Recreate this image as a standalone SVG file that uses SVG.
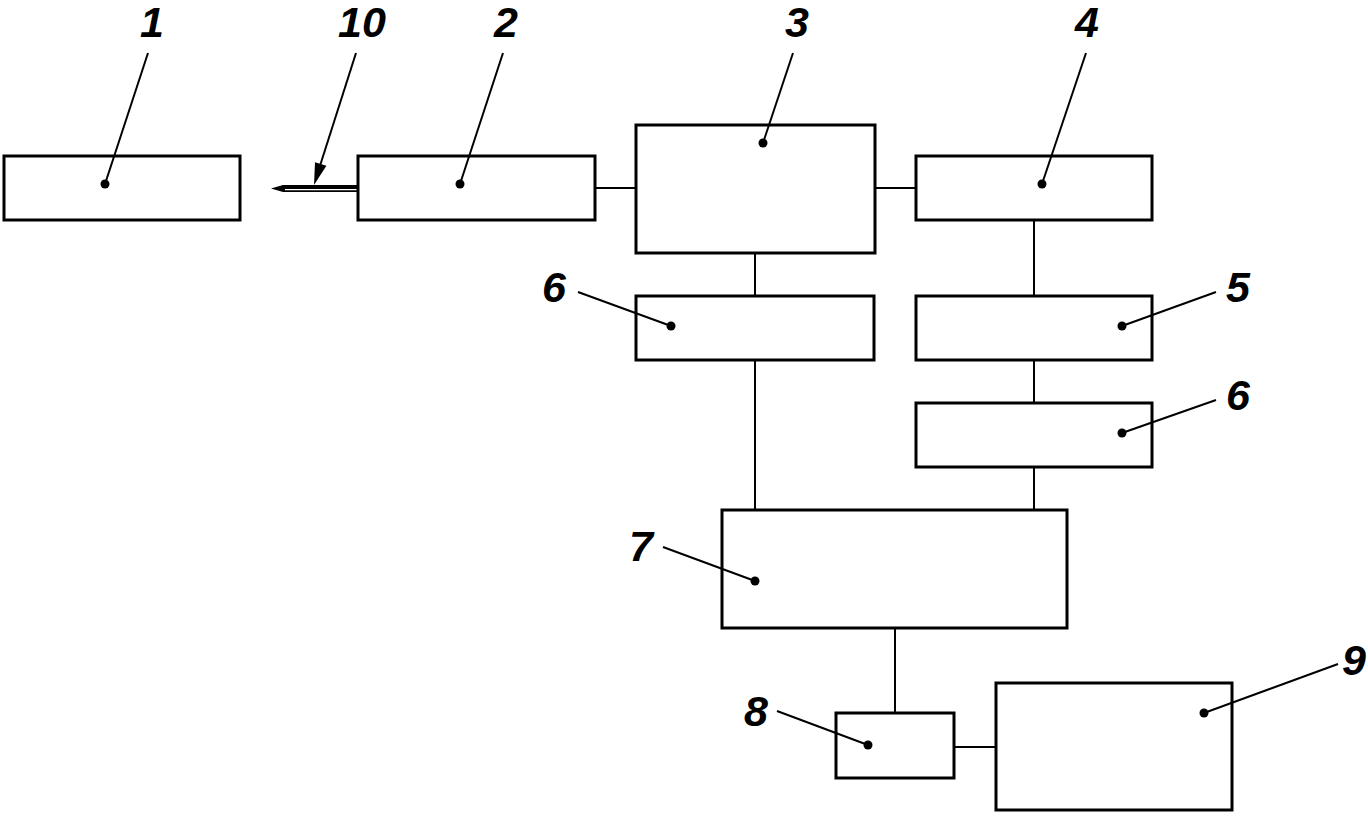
<svg xmlns="http://www.w3.org/2000/svg" width="1368" height="817" viewBox="0 0 1368 817">
<style>
.box{fill:#fff;stroke:#000;stroke-width:3}
.con line{stroke:#000;stroke-width:2}
.lead{stroke:#000;stroke-width:2}
.dot{fill:#000}
.lbl{font-family:"Liberation Sans",Arial,sans-serif;font-weight:bold;font-style:italic;font-size:43px;fill:#000;text-anchor:middle}
</style>
<rect width="1368" height="817" fill="#fff"/>
<g id="connectors" class="con">
<line x1="595" y1="188" x2="636" y2="188"/>
<line x1="875" y1="188" x2="916" y2="188"/>
<line x1="755" y1="253" x2="755" y2="296"/>
<line x1="1034" y1="220" x2="1034" y2="296"/>
<line x1="1034" y1="360" x2="1034" y2="403"/>
<line x1="755" y1="360" x2="755" y2="510"/>
<line x1="1034" y1="467" x2="1034" y2="510"/>
<line x1="895" y1="629" x2="895" y2="713"/>
<line x1="955" y1="747" x2="997" y2="747"/>
</g>
<g id="node1"><rect class="box" x="4" y="156" width="236" height="64"/><line class="lead" x1="105" y1="184" x2="148" y2="53"/><circle class="dot" cx="105" cy="184" r="4.5"/><text class="lbl" x="152" y="37">1</text></g>
<g id="node10"><polygon points="357,185 283,185 271,188.5 283,192 357,192" fill="#000"/><line x1="285" y1="189.6" x2="357" y2="189.6" stroke="#fff" stroke-width="1.3"/><line class="lead" x1="356" y1="53" x2="318" y2="172"/><polygon points="314,185 326.4,165.8 315,162.2" fill="#000"/><text class="lbl" x="362" y="37">10</text></g>
<g id="node2"><rect class="box" x="358" y="156" width="237" height="64"/><line class="lead" x1="460" y1="184" x2="503" y2="53"/><circle class="dot" cx="460" cy="184" r="4.5"/><text class="lbl" x="506" y="37">2</text></g>
<g id="node3"><rect class="box" x="636" y="125" width="239" height="128"/><line class="lead" x1="763" y1="143" x2="793" y2="53"/><circle class="dot" cx="763" cy="143" r="4.5"/><text class="lbl" x="797" y="37">3</text></g>
<g id="node4"><rect class="box" x="916" y="156" width="236" height="64"/><line class="lead" x1="1042" y1="184" x2="1086" y2="53"/><circle class="dot" cx="1042" cy="184" r="4.5"/><text class="lbl" x="1087" y="37">4</text></g>
<g id="node6a"><rect class="box" x="636" y="296" width="238" height="64"/><line class="lead" x1="671" y1="326" x2="578" y2="292"/><circle class="dot" cx="671" cy="326" r="4.5"/><text class="lbl" x="554" y="302">6</text></g>
<g id="node5"><rect class="box" x="916" y="296" width="236" height="64"/><line class="lead" x1="1122" y1="326" x2="1216" y2="292"/><circle class="dot" cx="1122" cy="326" r="4.5"/><text class="lbl" x="1238" y="302">5</text></g>
<g id="node6b"><rect class="box" x="916" y="403" width="236" height="64"/><line class="lead" x1="1122" y1="433" x2="1216" y2="400"/><circle class="dot" cx="1122" cy="433" r="4.5"/><text class="lbl" x="1238" y="410">6</text></g>
<g id="node7"><rect class="box" x="722" y="510" width="345" height="118"/><line class="lead" x1="755" y1="581" x2="663" y2="547"/><circle class="dot" cx="755" cy="581" r="4.5"/><text class="lbl" x="641" y="561">7</text></g>
<g id="node8"><rect class="box" x="836" y="713" width="118" height="65"/><line class="lead" x1="868" y1="745" x2="777" y2="711"/><circle class="dot" cx="868" cy="745" r="4.5"/><text class="lbl" x="756" y="726">8</text></g>
<g id="node9"><rect class="box" x="996" y="683" width="236" height="127"/><line class="lead" x1="1204" y1="713" x2="1338" y2="664"/><circle class="dot" cx="1204" cy="713" r="4.5"/><text class="lbl" x="1354" y="675">9</text></g>
</svg>
